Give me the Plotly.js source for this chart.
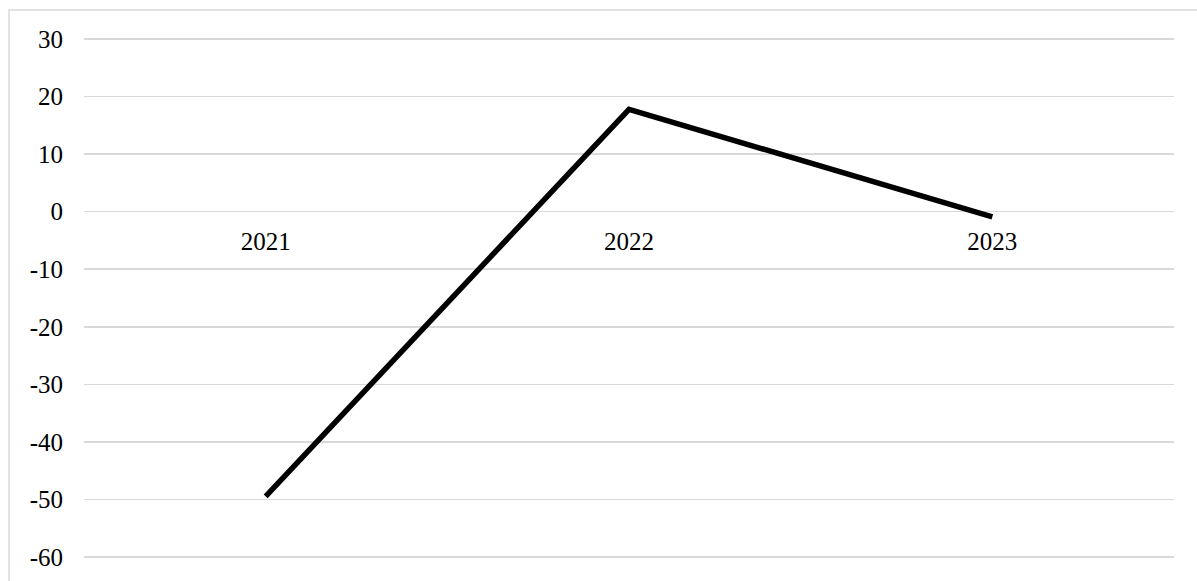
<!DOCTYPE html>
<html>
<head>
<meta charset="utf-8">
<script src="https://cdn.plot.ly/plotly-3.0.1.min.js"></script>
<style>html,body{margin:0;padding:0;background:#fff;}#chart{width:1197px;height:581px;}</style>
</head>
<body>
<div id="chart"></div>
<script>
const years = ["2021", "2022", "2023"];
const values = [-49.5, 17.8, -0.9];
const yTicks = [30, 20, 10, 0, -10, -20, -30, -40, -50, -60];
const yMin = -60.2, yMax = 30.2;

const trace = {
  x: years, y: values, type: "scatter", mode: "lines",
  line: {color: "#000000", width: 5.5},
  hoverinfo: "skip"
};

const fontFam = "'Liberation Serif', 'Times New Roman', serif";

const layout = {
  width: 1197, height: 581,
  margin: {l: 84, r: 23, t: 38, b: 23, pad: 0},
  paper_bgcolor: "#ffffff", plot_bgcolor: "#ffffff",
  showlegend: false,
  font: {family: fontFam, size: 25, color: "#000000"},
  xaxis: {
    type: "category", range: [-0.5, 2.5],
    anchor: "free", position: (0 - yMin) / (yMax - yMin),
    showgrid: false, showline: false, zeroline: false,
    ticks: "", ticklabelstandoff: 12,
    tickfont: {family: fontFam, size: 25, color: "#000000"},
    fixedrange: true
  },
  yaxis: {
    range: [yMin, yMax], tickvals: yTicks, ticktext: yTicks.map(String),
    showgrid: true, gridcolor: "#d9d9d9", gridwidth: 1.5,
    zeroline: false, showline: false, ticks: "",
    ticklabelstandoff: 20,
    tickfont: {family: fontFam, size: 25, color: "#000000"},
    fixedrange: true
  },
  shapes: [{
    type: "rect", xref: "paper", yref: "paper",
    x0: (9 - 84) / 1090, x1: 1.2, y0: -0.2, y1: (558 - 10) / 520,
    line: {color: "#d9d9d9", width: 1.5}, fillcolor: "rgba(0,0,0,0)", layer: "below"
  }]
};

Plotly.newPlot("chart", [trace], layout, {displayModeBar: false, staticPlot: true});
</script>
</body>
</html>
